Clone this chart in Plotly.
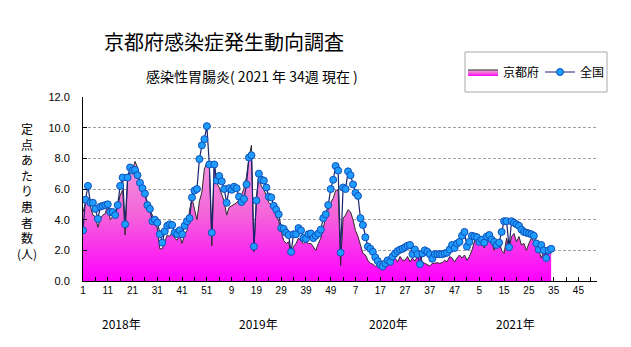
import plotly.graph_objects as go

# ---- data -------------------------------------------------------------
years = ["2018年", "2019年", "2020年", "2021年"]
year_label_pos = [15.5, 71, 123.5, 174.5]          # centre of year captions (week index)
tick_labels = ["1", "11", "21", "31", "41", "51", "9", "19", "29", "39", "49",
               "7", "17", "27", "37", "47", "5", "15", "25", "35", "45"]

kyoto = [
    4.5, 5.1, 5.4, 4.75, 4.3, 4.2, 3.5, 4.1, 4.3, 4.4,
    5.0, 4.0, 4.2, 4.2, 4.85, 5.6, 5.95, 3.0, 6.6, 7.05,
    7.25, 7.8, 7.4, 6.5, 6.15, 5.6, 5.1, 4.65, 4.3, 4.0,
    3.45, 2.1, 2.1, 2.55, 3.0, 2.9, 3.2, 2.8, 2.65, 3.05,
    2.45, 3.0, 3.3, 4.6, 5.4, 4.7, 4.0, 5.2, 5.8, 7.3,
    7.7, 7.6, 2.3, 7.6, 6.4, 6.1, 5.6, 5.2, 4.3, 4.8,
    4.9, 5.0, 5.1, 5.3, 5.6, 6.05, 6.8, 8.05, 8.85, 1.9,
    5.4, 6.95, 6.15, 5.95, 5.6, 5.1, 5.0, 4.65, 4.2, 3.9,
    3.3, 2.65, 2.45, 2.55, 1.7, 2.25, 2.45, 2.8, 2.6, 2.45,
    2.55, 2.45, 2.45, 2.25, 2.0, 2.45, 2.8, 3.45, 4.2, 4.65,
    5.1, 5.4, 5.9, 5.95, 1.0, 4.1, 4.3, 4.65, 4.5, 4.0,
    3.3, 2.9, 2.25, 1.8, 1.7, 1.35, 1.15, 1.1, 0.95, 1.05,
    1.15, 0.7, 0.95, 1.15, 1.35, 1.65, 1.5, 1.25, 1.6, 1.35,
    1.35, 1.6, 1.25, 1.5, 1.3, 1.6, 1.65, 1.25, 1.15, 1.05,
    0.98, 1.15, 1.15, 1.2, 1.15, 1.2, 1.35, 1.25, 1.6, 1.5,
    1.25, 1.5, 1.7, 1.5, 1.7, 1.35, 1.6, 2.0, 2.65, 3.1,
    2.9, 2.45, 2.15, 2.65, 2.8, 2.55, 2.0, 2.45, 2.65, 2.0,
    1.8, 2.8, 2.05, 2.9, 3.1, 2.55, 2.9, 2.35, 2.45, 2.0,
    2.45, 2.8, 2.55, 2.3, 2.0, 1.5, 1.9, 2.0, 1.9, 1.8,
]

national = [
    3.3, 5.3, 6.2, 5.1, 5.1, 4.7, 4.05, 4.85, 4.9, 4.95,
    5.0, 4.5, 4.5, 4.3, 4.95, 6.2, 6.75, 3.7, 6.75, 7.4,
    7.2, 7.25, 6.9, 6.4, 6.05, 5.7, 4.95, 4.7, 3.9, 4.0,
    3.8, 3.05, 2.5, 3.25, 3.6, 3.7, 3.65, 3.15, 3.05, 3.3,
    3.05, 3.6, 3.9, 4.1, 5.45, 5.9, 6.0, 7.95, 8.85, 9.25,
    10.1, 7.6, 3.15, 7.6, 6.55, 6.85, 6.5, 6.0, 5.1, 6.05,
    5.95, 6.15, 6.05, 5.5, 5.15, 5.35, 6.3, 8.05, 8.2, 2.25,
    5.25, 7.0, 6.6, 6.55, 6.1, 5.5, 5.45, 4.9, 4.65, 4.35,
    3.45, 3.4, 3.15, 3.0, 1.9, 3.05, 3.05, 3.45, 3.3, 2.8,
    2.75, 3.05, 3.1, 2.8, 2.95, 3.1, 3.35, 4.1, 4.35, 4.95,
    6.0, 6.6, 7.5, 7.2, 1.85, 6.1, 6.0, 7.15, 6.9, 6.3,
    5.75, 5.55, 4.1, 3.65, 2.85, 2.25, 2.1, 1.9, 1.55, 1.3,
    1.05, 0.95, 1.15, 1.35, 1.25, 1.6, 1.8, 1.95, 2.05, 2.1,
    2.2, 2.3, 2.35, 1.75, 2.05, 1.75, 1.1, 1.8, 2.0, 1.9,
    1.75, 1.45, 1.75, 1.75, 1.75, 1.75, 1.8, 1.85, 2.05, 2.35,
    2.15, 2.45, 2.55, 2.95, 3.2, 2.25, 2.55, 2.95, 2.9, 2.85,
    2.55, 2.7, 2.5, 2.9, 3.0, 2.7, 2.55, 2.35, 2.5, 3.2,
    3.9, 3.9, 2.2, 3.9, 3.8, 3.7, 3.6, 3.35, 3.2, 3.15,
    3.1, 3.05, 2.95, 2.45, 2.05, 2.35, 2.0, 1.5, 2.0, 2.1,
]

ylabel_chars = ["定", "点", "あ", "た", "り", "患", "者", "数", "(人)"]

# ---- figure -----------------------------------------------------------
x = list(range(len(kyoto)))
tickvals = [10 * k for k in range(len(tick_labels))]
JP = "Noto Sans CJK JP"

# pixel -> paper helpers (plot area: x 83..597, y 97..281)
def px(v):
    return (v - 83) / 514

def py(v):
    return (281 - v) / 184

fig = go.Figure()
fig.add_trace(go.Scatter(
    x=x, y=kyoto, name="京都府", mode="lines",
    line=dict(color="#2a2a2a", width=1),
    fill="tozeroy",
    fillgradient=dict(type="vertical", start=0, stop=9,
                      colorscale=[[0, "#ff00ff"], [0.5, "#f467d8"], [1, "#f2a8e2"]]),
))
fig.add_trace(go.Scatter(
    x=x, y=national, name="全国", mode="lines+markers",
    line=dict(color="#1c2470", width=1.2),
    marker=dict(size=7, color="#1e9cff", line=dict(color="#1050b8", width=1)),
))

fig.update_layout(
    width=631, height=347,
    margin=dict(l=83, r=34, t=97, b=66, autoexpand=False),
    paper_bgcolor="white", plot_bgcolor="white",
    font=dict(family=JP, color="black"),
    showlegend=True,
    legend=dict(orientation="h", x=px(463), y=py(72), xanchor="left", yanchor="middle",
                borderwidth=0, bgcolor="rgba(0,0,0,0)",
                font=dict(size=12, family=JP), itemwidth=30,
                entrywidth=32, entrywidthmode="pixels"),
    xaxis=dict(range=[0, 207.5], showline=True, linecolor="black", linewidth=1,
               showgrid=False, zeroline=False, ticks="inside", ticklen=4,
               tickcolor="black", tickvals=tickvals, ticktext=tick_labels,
               tickfont=dict(family="Liberation Sans", size=10),
               minor=dict(ticks="inside", ticklen=4, tickcolor="black",
                          tick0=0, dtick=5, showgrid=False)),
    yaxis=dict(range=[0, 12], dtick=2, tickformat=".1f", showline=True,
               linecolor="black", linewidth=1, zeroline=False,
               showgrid=True, gridcolor="#a0a0a0", griddash="3px,2px", gridwidth=1,
               ticks="inside", ticklen=4, tickcolor="black",
               ticklabelstandoff=10,
               tickfont=dict(family="Liberation Sans", size=11)),
    shapes=[dict(type="rect", xref="paper", yref="paper",
                 x0=px(465), x1=px(607), y0=py(92), y1=py(52),
                 line=dict(color="#a8a8a8", width=1), fillcolor="rgba(0,0,0,0)")],
)

# titles
fig.add_annotation(text="京都府感染症発生動向調査", xref="paper", yref="paper",
                   x=px(102), y=py(41), xanchor="left", yanchor="middle",
                   showarrow=False, font=dict(size=20, family=JP))
fig.add_annotation(text="感染性胃腸炎( 2021 年 34週 現在 )", xref="paper", yref="paper",
                   x=px(144), y=py(76), xanchor="left", yanchor="middle",
                   showarrow=False, font=dict(size=14, family=JP))

# year captions
for lbl, pos in zip(years, year_label_pos):
    fig.add_annotation(text=lbl, x=pos, xref="x", y=py(323), yref="paper",
                       showarrow=False, font=dict(size=12, family=JP),
                       xanchor="center", yanchor="middle")

# vertical y-axis caption (one text block, one character per line)
fig.add_annotation(text="<br>".join(ylabel_chars), xref="paper", yref="paper",
                   x=px(27), y=py(191), xanchor="center", yanchor="middle",
                   showarrow=False, font=dict(size=12, family=JP))

fig.write_html("out.html")
